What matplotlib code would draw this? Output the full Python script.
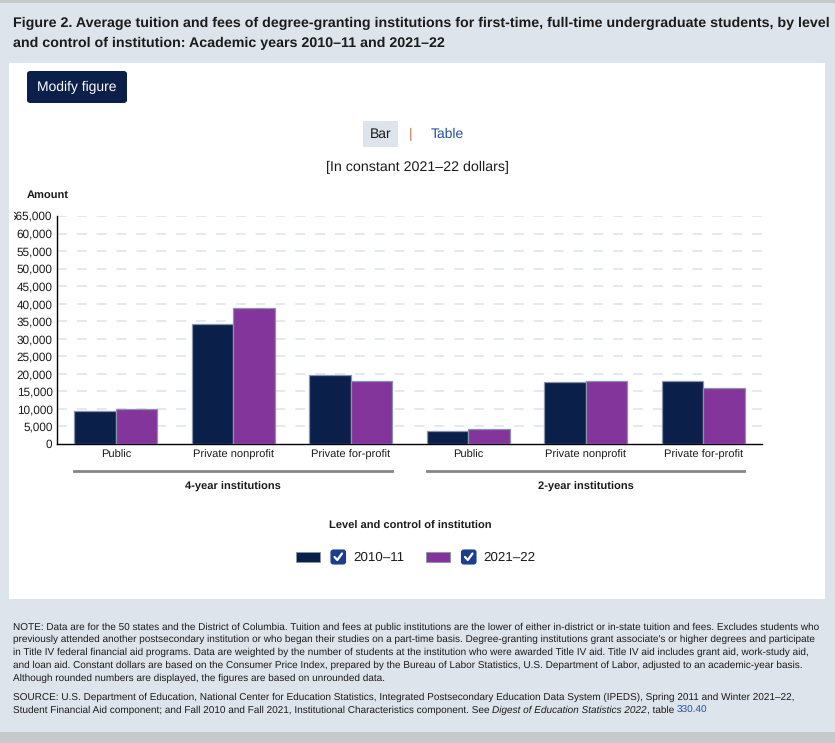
import matplotlib
matplotlib.use("Agg")
import matplotlib.pyplot as plt
from matplotlib.patches import Rectangle, FancyBboxPatch
from matplotlib.lines import Line2D
from matplotlib.transforms import Bbox, TransformedBbox, blended_transform_factory
import numpy as np

plt.rcParams['font.family'] = ['Liberation Sans', 'DejaVu Sans']
plt.rcParams['text.hinting'] = 'none'

# ---------------- data ----------------
categories = ["Public", "Private nonprofit", "Private for-profit",
              "Public", "Private nonprofit", "Private for-profit"]
groups = ["4-year institutions", "2-year institutions"]
group_spans = [(0, 2), (3, 5)]
series_names = ["2010\u201311", "2021\u201322"]
values_2010_11 = [9400, 34100, 19550, 3600, 17750, 17950]
values_2021_22 = [9850, 38900, 17950, 4150, 17950, 15850]
y_ticks = [0, 5000, 10000, 15000, 20000, 25000, 30000, 35000, 40000,
           45000, 50000, 55000, 60000, 65000]
y_tick_labels = ["0", "5,000", "10,000", "15,000", "20,000", "25,000", "30,000",
                 "35,000", "40,000", "45,000", "50,000", "55,000", "60,000", "$65,000"]

title_lines = [
    "Figure 2. Average tuition and fees of degree-granting institutions for first-time, full-time undergraduate students, by level",
    "and control of institution: Academic years 2010\u201311 and 2021\u201322",
]
note_lines = [
    "NOTE: Data are for the 50 states and the District of Columbia. Tuition and fees at public institutions are the lower of either in-district or in-state tuition and fees. Excludes students who",
    "previously attended another postsecondary institution or who began their studies on a part-time basis. Degree-granting institutions grant associate's or higher degrees and participate",
    "in Title IV federal financial aid programs. Data are weighted by the number of students at the institution who were awarded Title IV aid. Title IV aid includes grant aid, work-study aid,",
    "and loan aid. Constant dollars are based on the Consumer Price Index, prepared by the Bureau of Labor Statistics, U.S. Department of Labor, adjusted to an academic-year basis.",
    "Although rounded numbers are displayed, the figures are based on unrounded data.",
]

# ---------------- style ----------------
W, H = 835, 743
NAVY = "#0b1f4b"
PURPLE = "#84359b"
OUTER = "#dee4eb"
BAND = "#c7cacd"
TXT = "#1b1b1b"
NOTE_FS = 7.2

fig = plt.figure(figsize=(W / 100, H / 100), dpi=100)
fig.patch.set_facecolor(OUTER)


def fx(x):
    return x / W


def fy(y):
    return 1 - y / H


def rect_px(x0, y0, x1, y1, zorder=0, **kw):
    r = Rectangle((fx(x0), fy(y1)), fx(x1) - fx(x0), fy(y0) - fy(y1),
                  transform=fig.transFigure, zorder=zorder, **kw)
    fig.patches.append(r)
    return r


# bands and panel
rect_px(0, 0, W, 3, facecolor=BAND, edgecolor="none", zorder=-5)
rect_px(0, 732, W, H, facecolor=BAND, edgecolor="none", zorder=-5)
rect_px(9, 63, 825, 599, facecolor="white", edgecolor="none", zorder=-5)

# title
for i, line in enumerate(title_lines):
    fig.text(fx(13), fy(23 + 20 * i), line, fontsize=10.25, fontweight="bold",
             color=TXT, va="center", ha="left")

# Modify figure button
btn = FancyBboxPatch((fx(27), fy(103)), fx(127) - fx(27), fy(71) - fy(103),
                     boxstyle="round,pad=0,rounding_size=0.004",
                     transform=fig.transFigure, facecolor=NAVY, edgecolor="none",
                     zorder=-4)
fig.patches.append(btn)
fig.text(fx(77), fy(87.5), "Modify figure", fontsize=10, color="white",
         ha="center", va="center")

# Bar | Table
rect_px(363, 121, 398, 147, facecolor="#dee4eb", edgecolor="none", zorder=-4)
fig.text(fx(380.5), fy(134), "Bar", fontsize=10, color=TXT, ha="center", va="center")
fig.text(fx(411), fy(134), "|", fontsize=10, color="#c8783c", ha="center", va="center")
fig.text(fx(447.5), fy(134), "Table", fontsize=10, color="#1f52a3", ha="center", va="center")
fig.text(fx(417), fy(167), "[In constant 2021\u201322 dollars]", fontsize=10.3,
         color=TXT, ha="center", va="center")
fig.text(fx(27), fy(195), "Amount", fontsize=8, fontweight="bold", color=TXT,
         ha="left", va="center")

# ---------------- axes ----------------
ax = fig.add_axes([fx(57), fy(444), fx(762) - fx(57), fy(216) - fy(444)])
ax.set_zorder(2)
ax.set_facecolor("none")
x = np.arange(len(categories))
bw = 0.353
ax.bar(x - bw / 2, values_2010_11, width=bw, color=NAVY, edgecolor="#8a94a8",
       linewidth=0.9, zorder=3)
ax.bar(x + bw / 2, values_2021_22, width=bw, color=PURPLE, edgecolor="#8a94a8",
       linewidth=0.9, zorder=3)
ax.set_xlim(-0.5, len(categories) - 0.5)
ax.set_ylim(0, 65000)
for yv in y_ticks[1:]:
    ax.axhline(yv, color="#e2e7ee", linewidth=1.3, linestyle=(0, (5.5, 5.5)), zorder=1)

for s in ["top", "right"]:
    ax.spines[s].set_visible(False)
ax.spines["left"].set_color("black")
ax.spines["bottom"].set_color("black")
ax.spines["left"].set_linewidth(1.0)
ax.spines["bottom"].set_linewidth(1.0)

ax.set_yticks(y_ticks)
ax.set_yticklabels(y_tick_labels)
ax.set_xticks(x)
ax.set_xticklabels(categories)
ax.tick_params(axis="y", length=0, pad=3.2, labelsize=8.5, labelcolor=TXT)
ax.tick_params(axis="x", length=0, pad=4, labelsize=8, labelcolor=TXT)

# clip the "$" of top label like the reference
clipbb = TransformedBbox(Bbox.from_extents(fx(14), 0, 1, 1), fig.transFigure)
top_lbl = ax.get_yticklabels()[-1]
top_lbl.set_clip_box(clipbb)
top_lbl.set_clip_on(True)

# group lines and labels
tr = blended_transform_factory(ax.transData, ax.transAxes)
for (i0, i1), g in zip(group_spans, groups):
    ax.add_line(Line2D([i0 - 0.355, i1 + 0.348], [-0.117, -0.117], transform=tr,
                       color="#858585", linewidth=2, clip_on=False))
    ax.text((i0 + i1) / 2, -0.1875, g, transform=tr, fontsize=8, fontweight="bold",
            color=TXT, ha="center", va="center")

# ---------------- legend ----------------
fig.text(fx(410), fy(526.5), "Level and control of institution", fontsize=8,
         fontweight="bold", color=TXT, ha="center", va="center")


def checkbox(x0):
    cb = FancyBboxPatch((fx(x0), fy(564)), fx(x0 + 14.5) - fx(x0), fy(550) - fy(564),
                        boxstyle="round,pad=0,rounding_size=0.003",
                        transform=fig.transFigure, facecolor="#1b3e90",
                        edgecolor="#1b3e90", linewidth=0.8)
    fig.patches.append(cb)
    fig.lines.append(Line2D([fx(x0 + 3.5), fx(x0 + 6.3), fx(x0 + 11)],
                            [fy(557), fy(560), fy(553.5)], transform=fig.transFigure,
                            color="white", linewidth=1.6, solid_capstyle="round",
                            solid_joinstyle="round"))


for (rx, cx, tx), name, col in zip([(296, 331, 353), (426, 461.5, 483.5)],
                                   series_names, [NAVY, PURPLE]):
    rect_px(rx, 552, rx + 24, 562, facecolor=col, edgecolor="#8a94a8", linewidth=0.6)
    checkbox(cx)
    fig.text(fx(tx), fy(557.5), name, fontsize=9.6, color=TXT, ha="left", va="center")

# ---------------- notes ----------------
for i, line in enumerate(note_lines):
    fig.text(fx(13), fy(627 + 12.8 * i), line, fontsize=NOTE_FS, color=TXT,
             ha="left", va="center")
src_y = 697.5
fig.text(fx(13), fy(src_y),
         "SOURCE: U.S. Department of Education, National Center for Education Statistics, Integrated Postsecondary Education Data System (IPEDS), Spring 2011 and Winter 2021\u201322,",
         fontsize=NOTE_FS, color=TXT, ha="left", va="center")
t1 = fig.text(fx(13), fy(src_y + 12.8),
              "Student Financial Aid component; and Fall 2010 and Fall 2021, Institutional Characteristics component. See ",
              fontsize=NOTE_FS, color=TXT, ha="left", va="center")
fig.canvas.draw()
r = fig.canvas.get_renderer()
bb = t1.get_window_extent(r)
t2 = fig.text(bb.x1 / W, fy(src_y + 12.8), "Digest of Education Statistics 2022",
              fontsize=NOTE_FS, color=TXT, ha="left", va="center", style="italic")
bb2 = t2.get_window_extent(r)
t3 = fig.text(bb2.x1 / W, fy(src_y + 12.8), ", table ", fontsize=NOTE_FS, color=TXT,
              ha="left", va="center")
bb3 = t3.get_window_extent(r)
fig.text(bb3.x1 / W, fy(src_y + 12.8), "330.40", fontsize=NOTE_FS, color="#1f52a3",
         ha="left", va="center")

fig.savefig("out.png", dpi=100, facecolor=fig.get_facecolor())
